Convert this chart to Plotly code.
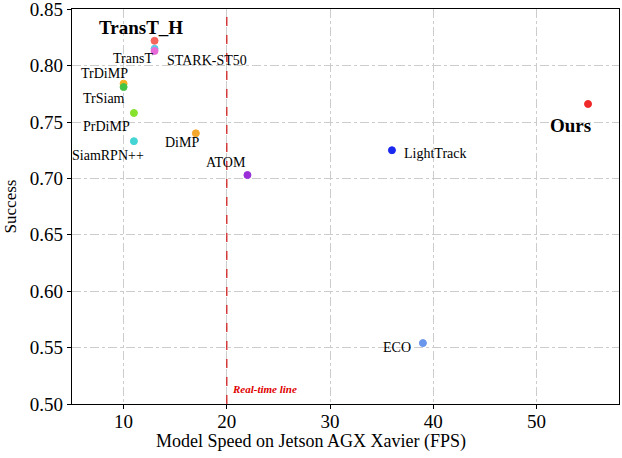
import plotly.graph_objects as go

# data
trackers = ['TransT_H', 'TransT', 'STARK-ST50', 'TrDiMP', 'TrSiam', 'PrDiMP',
            'SiamRPN++', 'DiMP', 'ATOM', 'LightTrack', 'Ours', 'ECO']
fps = [13, 13, 13, 10, 10, 11, 11, 17, 22, 36, 55, 39]
success = [0.822, 0.815, 0.813, 0.784, 0.781, 0.758, 0.733, 0.740, 0.703, 0.725, 0.766, 0.554]
colors = ['#f4645c', '#5ec8e8', '#e86ad8', '#f5b020', '#44c444', '#86e22c',
          '#44d4d4', '#f4a82c', '#9a2ed8', '#1a28f0', '#f02a2a', '#6a96ec']
y_ticks = [0.5, 0.55, 0.6, 0.65, 0.7, 0.75, 0.8, 0.85]
x_ticks = [10, 20, 30, 40, 50]

realtime_fps = 20

# label placement (pixel offsets from the marker)
label_pos = {
    'TransT_H': (-14, 13, 'center'),
    'TransT': (0, -10, 'right'),
    'STARK-ST50': (10, -10, 'left'),
    'TrDiMP': (-19, 10, 'center'),
    'TrSiam': (-20, -11, 'center'),
    'PrDiMP': (-27, -14, 'center'),
    'SiamRPN++': (-26, -14, 'center'),
    'DiMP': (-14, -9, 'center'),
    'ATOM': (-21, 13, 'center'),
    'LightTrack': (10, -3, 'left'),
    'Ours': (-18, -22, 'center'),
    'ECO': (-10, -4, 'right'),
}
bold_labels = ['TransT_H', 'Ours']

FONT = 'Liberation Serif, Times New Roman, serif'

fig = go.Figure()

fig.add_trace(go.Scatter(
    x=fps, y=success, mode='markers',
    marker=dict(size=7, color=colors, line=dict(width=1, color=colors)),
    showlegend=False, hoverinfo='text', text=trackers,
))

for name, xv, yv in zip(trackers, fps, success):
    dx, dy, anchor = label_pos[name]
    if name in bold_labels:
        txt = '<b>%s</b>' % name
        size = 19
    else:
        txt = name
        size = 14
    fig.add_annotation(x=xv, y=yv, text=txt, showarrow=False,
                       xshift=dx, yshift=dy, xanchor=anchor, yanchor='middle',
                       font=dict(family=FONT, size=size, color='black'))

# real-time line
fig.add_shape(type='line', x0=realtime_fps, x1=realtime_fps, y0=0, y1=1,
              xref='x', yref='paper',
              line=dict(color='#cc1010', width=1.2, dash='dash'))
fig.add_annotation(x=realtime_fps, y=0.5135, text='<b><i>Real-time line</i></b>',
                   showarrow=False, xanchor='left', xshift=3,
                   font=dict(family=FONT, size=11, color='#e00000'))

# x label is centred on the figure, not on the axes
fig.add_annotation(x=0.437, y=0, xref='paper', yref='paper', yshift=-37,
                   text='Model Speed on Jetson AGX Xavier (FPS)', showarrow=False,
                   xanchor='center', yanchor='middle',
                   font=dict(family=FONT, size=18, color='black'))

fig.update_xaxes(range=[5, 58], tickvals=x_ticks, ticklabelstandoff=-4,
                 showgrid=True, gridcolor='#cccccc', griddash='dashdot', gridwidth=1,
                 showline=True, linecolor='black', linewidth=1.2, mirror=True,
                 ticks='outside', ticklen=4, tickcolor='black',
                 tickfont=dict(family=FONT, size=19, color='black'),
                 zeroline=False)
fig.update_yaxes(range=[0.5, 0.8502], tickvals=y_ticks,
                 tickformat='.2f', ticklabeloverflow='allow', automargin=False,
                 showgrid=True, gridcolor='#cccccc', griddash='dashdot', gridwidth=1,
                 showline=True, linecolor='black', linewidth=1.2, mirror=True,
                 ticks='outside', ticklen=4, tickcolor='black',
                 tickfont=dict(family=FONT, size=19, color='black'),
                 title=dict(text='Success',
                            font=dict(family=FONT, size=17, color='black'), standoff=8),
                 zeroline=False)

fig.update_layout(
    width=622, height=458,
    margin=dict(l=72, r=3, t=9, b=54),
    plot_bgcolor='white', paper_bgcolor='white',
)

# page has a default body margin; drop it so the figure fills the window
fig.write_html("out.html", config={'displayModeBar': False},
               post_script="document.body.style.margin='0';")
